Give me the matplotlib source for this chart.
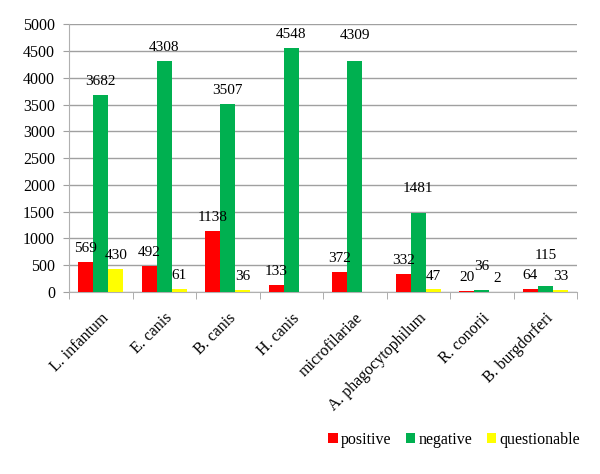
import numpy as np
import matplotlib
matplotlib.use("Agg")
import matplotlib.pyplot as plt

# data
categories = ["L. infantum", "E. canis", "B. canis", "H. canis", "microfilariae",
              "A. phagocytophilum", "R. conorii", "B. burgdorferi"]
positive = [569, 492, 1138, 133, 372, 332, 20, 64]
negative = [3682, 4308, 3507, 4548, 4309, 1481, 36, 115]
questionable = [430, 61, 36, None, None, 47, 2, 33]

series = [("positive", positive, "#FF0000"),
          ("negative", negative, "#00B050"),
          ("questionable", questionable, "#FFFF00")]

# extra lift (points) for labels that Excel moved up to avoid overlaps
lift = {("negative", 4): 9, ("negative", 5): 8, ("negative", 6): 7, ("negative", 7): 12}

plt.rcParams["font.family"] = ["Liberation Serif", "DejaVu Serif"]

fig = plt.figure(figsize=(6, 4.74), dpi=100)
ax = fig.add_axes([0.115, 0.384, 0.847, 0.565])

x = np.arange(len(categories))
w = 0.236
for i, (name, vals, col) in enumerate(series):
    v = np.array([np.nan if a is None else a for a in vals], dtype=float)
    pos = x + (i - 1) * w
    ax.bar(pos, np.nan_to_num(v), w, color=col, label=name, zorder=3)
    for j, val in enumerate(vals):
        if val is None:
            continue
        ax.annotate(str(val), (pos[j], val), xytext=(0, 5 + lift.get((name, j), 0)),
                    textcoords="offset points", ha="center", va="bottom",
                    fontsize=11, zorder=4)

ax.set_xlim(-0.5, len(categories) - 0.5)
ax.set_ylim(0, 5000)
ax.set_yticks(np.arange(0, 5001, 500))
ax.tick_params(axis="y", labelsize=11.5, length=4, color="#a0a0a0", pad=6)
ax.yaxis.grid(True, color="#a0a0a0", linewidth=1, zorder=0)

ax.set_xticks(x)
ax.set_xticklabels(categories, rotation=45, ha="right", rotation_mode="anchor", fontsize=11.5)
ax.tick_params(axis="x", length=0, pad=13)
ax.set_xticks(np.arange(-0.5, len(categories) + 0.5, 1), minor=True)
ax.tick_params(axis="x", which="minor", length=5, color="#a0a0a0")

for s in ["top", "right"]:
    ax.spines[s].set_visible(False)
for s in ["left", "bottom"]:
    ax.spines[s].set_color("#b0b0b0")

fig.legend(loc="center", bbox_to_anchor=(0.757, 0.072), ncol=3, frameon=False,
           fontsize=11.5, handlelength=0.6, handleheight=0.6, handletextpad=0.2,
           columnspacing=0.9)

fig.savefig("out.png", dpi=100)
